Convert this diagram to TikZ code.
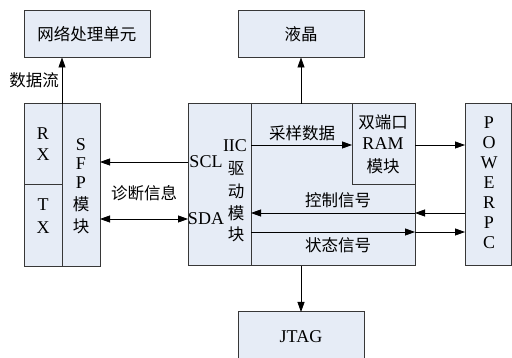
\documentclass[tikz,border=0pt]{standalone}
\usepackage{fontspec}
\setmainfont{Liberation Serif}
\newfontfamily\cjk{Noto Sans CJK SC}
\usetikzlibrary{arrows.meta}
\definecolor{boxfill}{RGB}{230,236,246}
\definecolor{edge}{RGB}{55,55,55}
\begin{document}
\begin{tikzpicture}[x=1pt,y=-1pt,
  blk/.style={draw=edge,fill=boxfill,line width=1pt,inner sep=0pt,outer sep=0pt,anchor=north west},
  lbl/.style={inner sep=0pt,font=\fontsize{18}{18}\selectfont},
  zh/.style={inner sep=0pt,font=\fontsize{16.5}{17}\selectfont\cjk},
  tip/.tip={Triangle[length=10pt,width=7pt]},
  arr/.style={draw=black,line width=0.8pt,-tip},
  dbl/.style={draw=black,line width=0.8pt,tip-tip}
]
\useasboundingbox (0,0) rectangle (512,358);
% boxes
\node[blk,minimum width=126pt,minimum height=47pt,font=\fontsize{16.5}{17}\selectfont\cjk] (net) at (24,10.5) {网络处理单元};
\node[blk,minimum width=126pt,minimum height=47pt,font=\fontsize{16.5}{17}\selectfont\cjk] (lcd) at (238,10.5) {液晶};
\node[blk,minimum width=38pt,minimum height=81pt] (rx) at (24,104) {};
\node[blk,minimum width=38pt,minimum height=81.5pt] (tx) at (24,185) {};
\node[blk,minimum width=38pt,minimum height=162.5pt] (sfp) at (62,104) {};
\node[blk,minimum width=164pt,minimum height=162pt] (mid) at (251,104) {};
\node[blk,minimum width=63pt,minimum height=162pt] (iic) at (188,104) {};
\node[blk,minimum width=63pt,minimum height=81pt] (ram) at (352,104) {};
\node[blk,minimum width=46pt,minimum height=162pt] (ppc) at (465,104) {};
\node[blk,minimum width=126pt,minimum height=50pt] (jtag) at (238,312) {};
\node[lbl] (jtagt) at (301,337) {JTAG};
% texts
\node[lbl] (r1) at (43,134) {R};
\node[lbl] (r2) at (43,155) {X};
\node[lbl] (t1) at (43,205) {T};
\node[lbl] (t2) at (43,228) {X};
\node[lbl] (s1) at (81,145) {S};
\node[lbl] (s2) at (81,164) {F};
\node[lbl] (s3) at (81,183) {P};
\node[zh] (s4) at (81,204) {模};
\node[zh] (s5) at (81,226) {块};
\node[lbl] (scl) at (206,162) {SCL};
\node[lbl] (sda) at (206,219) {SDA};
\node[lbl] (i1) at (235,146) {IIC};
\node[zh] (i2) at (236,169) {驱};
\node[zh] (i3) at (236,191) {动};
\node[zh] (i4) at (236,213) {模};
\node[zh] (i5) at (236,234) {块};
\node[zh] (m1) at (383,122) {双端口};
\node[lbl] (m2) at (383,144) {RAM};
\node[zh] (m3) at (383,166) {模块};
\node[lbl] (p1) at (489,123) {P};
\node[lbl] (p2) at (489,143) {O};
\node[lbl] (p3) at (489,163) {W};
\node[lbl] (p4) at (489,183) {E};
\node[lbl] (p5) at (489,203) {R};
\node[lbl] (p6) at (489,223) {P};
\node[lbl] (p7) at (489,243) {C};
\node[zh] (lflow) at (34,80) {数据流};
\node[zh] (ldiag) at (144,193) {诊断信息};
\node[zh] (lsamp) at (302,133) {采样数据};
\node[zh] (lctrl) at (338,200) {控制信号};
\node[zh] (lstat) at (338,245) {状态信号};
% coordinates
\coordinate (ys) at (0,145);
\coordinate (yc) at (0,213);
\coordinate (yt) at (0,232);
% connectors
\draw[arr] (rx.north east) -- (rx.north east |- net.south);
\draw[arr] (lcd.south |- mid.north) -- (lcd.south);
\draw[arr] (jtag.north |- mid.south) -- (jtag.north);
\draw[arr] (iic.west |- scl) -- (sfp.east |- scl);
\draw[dbl] (sfp.east |- sda) -- (iic.west |- sda);
\draw[arr] (iic.east |- ys) -- (ram.west |- ys);
\draw[arr] (ram.east |- ys) -- (ppc.west |- ys);
\draw[arr] (ppc.west |- yc) -- (mid.east |- yc);
\draw[arr] (mid.east |- yc) -- (iic.east |- yc);
\draw[arr] (iic.east |- yt) -- (mid.east |- yt);
\draw[arr] (mid.east |- yt) -- (ppc.west |- yt);
\end{tikzpicture}
\end{document}
